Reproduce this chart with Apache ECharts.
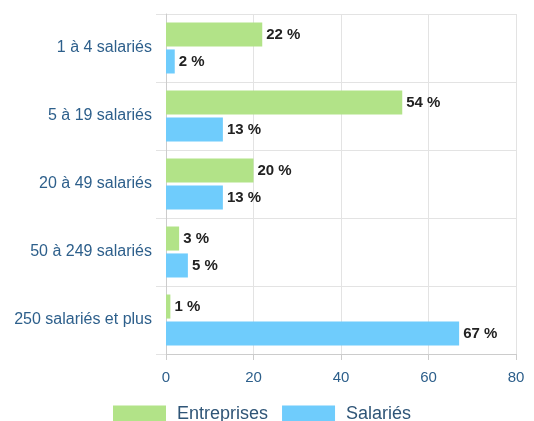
<!DOCTYPE html>
<html>
<head>
<meta charset="utf-8">
<script src="https://cdn.jsdelivr.net/npm/echarts@6/dist/echarts.min.js"></script>
<style>
  html, body { margin: 0; padding: 0; background: #fff; }
  #chart { width: 534px; height: 421px; }
</style>
</head>
<body>
<div id="chart"></div>
<script>
const categories = ['1 à 4 salariés', '5 à 19 salariés', '20 à 49 salariés', '50 à 249 salariés', '250 salariés et plus']
const entreprises = [22, 54, 20, 3, 1]
const salaries = [2, 13, 13, 5, 67]
const xTicks = [0, 20, 40, 60, 80]

const myChart = echarts.init(document.getElementById('chart'))
const labelStyle = {
  show: true,
  position: 'right',
  distance: 4,
  formatter: '{c} %',
  color: '#222',
  fontWeight: 'bold',
  fontSize: 15,
  fontFamily: 'Liberation Sans'
}
let option = {
  animation: false,
  textStyle: { fontFamily: 'Liberation Sans' },
  grid: {
    left: 166,
    right: 18,
    top: 14,
    bottom: 67
  },
  legend: {
    top: 400,
    left: 108,
    itemWidth: 53,
    itemHeight: 17,
    itemGap: 14,
    icon: 'rect',
    textStyle: { fontSize: 18, color: '#2f5577', fontFamily: 'Liberation Sans', padding: [0, 0, 0, 6] },
    data: ['Entreprises', 'Salariés']
  },
  xAxis: {
    type: 'value',
    min: xTicks[0],
    max: xTicks[xTicks.length - 1],
    interval: 20,
    axisLine: { show: true, lineStyle: { color: '#ccc' } },
    axisTick: { show: true, length: 6, lineStyle: { color: '#ccc' } },
    axisLabel: { color: '#2d5f8b', fontSize: 15, margin: 16 },
    splitLine: { lineStyle: { color: '#e3e3e3' } }
  },
  yAxis: {
    type: 'category',
    inverse: true,
    data: categories,
    axisLine: { lineStyle: { color: '#ccc' } },
    axisTick: { show: true, length: 10, lineStyle: { color: '#e3e3e3' } },
    axisLabel: { color: '#2d5f8b', fontSize: 16, margin: 14 },
    splitLine: { show: true, lineStyle: { color: '#e3e3e3' } }
  },
  series: [
    {
      name: 'Entreprises',
      type: 'bar',
      data: entreprises,
      itemStyle: { color: '#b2e388' },
      barGap: '12%',
      barCategoryGap: '25%',
      label: labelStyle
    },
    {
      name: 'Salariés',
      type: 'bar',
      data: salaries,
      itemStyle: { color: '#6fccfc' },
      label: labelStyle
    }
  ]
}
myChart.setOption(option)
</script>
</body>
</html>
